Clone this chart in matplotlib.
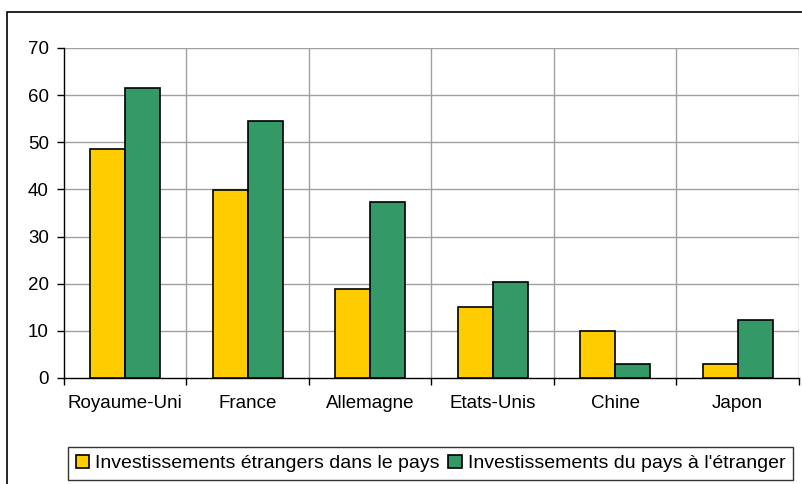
import matplotlib.pyplot as plt
from matplotlib.patches import Rectangle
import numpy as np

plt.rcParams['font.family'] = ['Liberation Sans', 'DejaVu Sans']

pays = ["Royaume-Uni", "France", "Allemagne", "Etats-Unis", "Chine", "Japon"]
entrants = [48.5, 39.9, 18.9, 15.0, 10.0, 3.0]
sortants = [61.6, 54.6, 37.4, 20.4, 3.0, 12.3]
noms = ["Investissements étrangers dans le pays", "Investissements du pays à l'étranger"]

fig = plt.figure(figsize=(8.03, 4.84), dpi=100)
ax = fig.add_axes([64 / 803, 1 - 378 / 484, 735 / 803, 330 / 484])

x = np.arange(len(pays)) + 0.5
w = 1 / 3.5
ax.bar(x - w / 2, entrants, w, color="#FFCC00", edgecolor="black", linewidth=1.2, label=noms[0], zorder=3)
ax.bar(x + w / 2, sortants, w, color="#339966", edgecolor="black", linewidth=1.2, label=noms[1], zorder=3)

ax.set_xlim(0, len(pays))
ax.set_ylim(0, 70)
ax.set_yticks(range(0, 71, 10))
ax.set_xticks(x)
ax.set_xticklabels(pays)
ax.set_xticks(np.arange(len(pays) + 1), minor=True)
ax.tick_params(axis="x", which="major", length=0, pad=12, labelsize=13.5)
ax.tick_params(axis="x", which="minor", length=5, direction="out", width=1)
ax.tick_params(axis="y", length=5, width=1, labelsize=13.5, pad=6)

for v in range(10, 71, 10):
    ax.axhline(v, color="#a0a0a0", linewidth=1, zorder=1)
for b in range(1, len(pays) + 1):
    ax.axvline(b, color="#a0a0a0", linewidth=1, zorder=1)

ax.spines["top"].set_visible(False)
ax.spines["right"].set_visible(False)
ax.spines["left"].set_linewidth(1)
ax.spines["bottom"].set_linewidth(1)

fig.patches.append(Rectangle((7 / 803, -0.2), 1.2, 1.2 - 12 / 484,
                             transform=fig.transFigure, fill=False,
                             edgecolor="black", linewidth=1.2))

leg = fig.legend(loc="upper center", bbox_to_anchor=(0.536, 1 - 447 / 484), ncol=2,
                 fontsize=14, frameon=True, fancybox=False, edgecolor="black",
                 handlelength=0.7, handleheight=0.7, handletextpad=0.3,
                 columnspacing=0.45, borderpad=0.4, borderaxespad=0)
leg.get_frame().set_linewidth(1)

fig.savefig("out.png", dpi=100)
